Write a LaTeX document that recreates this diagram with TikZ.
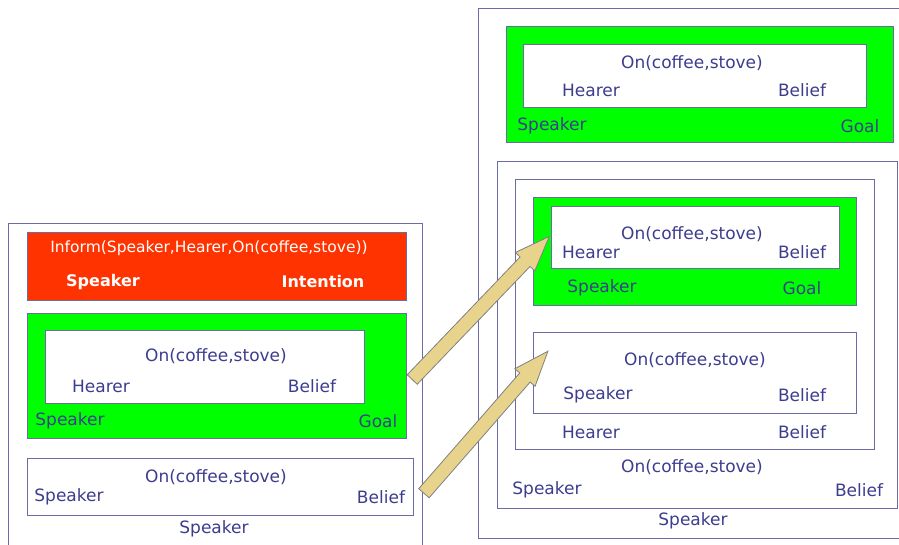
\documentclass[tikz,border=0pt]{standalone}
\usepackage{fontspec}
\setmainfont{DejaVu Sans}
\usetikzlibrary{fit,calc,shapes.arrows}
\definecolor{navy}{RGB}{61,61,143}
\definecolor{frame}{RGB}{107,107,168}
\definecolor{goalgreen}{RGB}{0,255,0}
\definecolor{intentred}{RGB}{255,51,0}
\definecolor{wheat}{RGB}{232,211,140}

\begin{document}
\begin{tikzpicture}[
            x=1pt, y=-1pt,
            box/.style = {
                draw=frame,
                line width=1pt,
                inner sep=0pt,
                fill=white
            },
            goalbox/.style = {box, fill=goalgreen},
            intentbox/.style = {box, fill=intentred},
            lbl/.style = {
                text=navy,
                inner sep=0pt,
                font=\fontsize{17}{20}\selectfont
            },
            boldlbl/.style = {
                text=white,
                inner sep=0pt,
                font=\fontsize{16}{19}\selectfont\bfseries
            },
            fat/.style = {
                single arrow,
                draw=gray,
                fill=wheat,
                line width=0.8pt,
                inner sep=0pt,
                inner ysep=6.5pt,
                single arrow head extend=6.5pt,
                single arrow tip angle=42
            }
        ]
            \useasboundingbox (0,0) rectangle (899,545);

            % left side: what the speaker holds
            \node[box, fit={(8,224) (422,560)}] (leftframe) {};
            \node[intentbox, fit={(27,233) (406,300)}] (intention) {};
            \node[goalbox, fit={(27,313) (406,438)}] (goal1) {};
            \node[box, fit={(45,330) (364,403)}] (belief1) {};
            \node[box, fit={(27,458) (413,515)}] (belief2) {};

            % right side: after the inform act
            \node[box, fit={(478,9) (905,538)}] (rightframe) {};
            \node[goalbox, fit={(506,27) (893,143)}] (goal3) {};
            \node[box, fit={(523,45) (866,108)}] (belief3) {};
            \node[box, fit={(497,162) (897,508)}] (belief4) {};
            \node[box, fit={(515,180) (874,449)}] (belief5) {};
            \node[goalbox, fit={(533,198) (856,305)}] (goal6) {};
            \node[box, fit={(551,207) (839,269)}] (belief6) {};
            \node[box, fit={(533,332) (856,413)}] (belief7) {};

            \node[text=white, inner sep=0pt, font=\fontsize{15.5}{18}\selectfont]
                (inform) at (209,248) {Inform(Speaker,Hearer,On(coffee,stove))};
            \node[boldlbl] (ispeaker) at (103,282) {Speaker};
            \node[boldlbl] (iintention) at (323,282) {Intention};

            \foreach \x/\y [count=\i] in {216/356, 216/477, 692/63, 692/234, 695/360, 692/467} {
                \node[lbl] (on\i) at (\x,\y) {On(coffee,stove)};
            }

            \node[lbl] (hearer1) at (101,386) {Hearer};
            \node[lbl] (bel1) at (312,386) {Belief};
            \node[lbl] (speaker1) at (70,421) {Speaker};
            \node[lbl] (goallbl1) at (378,421) {Goal};
            \node[lbl] (speaker2) at (69,497) {Speaker};
            \node[lbl] (bel2) at (381,497) {Belief};
            \node[lbl] (speakerL) at (214,529) {Speaker};

            \node[lbl] (hearer3) at (591,90) {Hearer};
            \node[lbl] (bel3) at (802,90) {Belief};
            \node[lbl] (speaker3) at (552,126) {Speaker};
            \node[lbl] (goallbl3) at (860,126) {Goal};

            \node[lbl] (hearer6) at (591,252) {Hearer};
            \node[lbl] (bel6) at (802,252) {Belief};
            \node[lbl] (speaker6) at (602,288) {Speaker};
            \node[lbl] (goallbl6) at (802,288) {Goal};
            \node[lbl] (speaker7) at (598,395) {Speaker};
            \node[lbl] (bel7) at (802,395) {Belief};
            \node[lbl] (hearer5) at (591,432) {Hearer};
            \node[lbl] (bel5) at (802,432) {Belief};
            \node[lbl] (speaker4) at (547,490) {Speaker};
            \node[lbl] (bel4) at (859,490) {Belief};
            \node[lbl] (speakerR) at (693,521) {Speaker};

            % the two transfer arrows
            \coordinate (s1) at (406,386);
            \coordinate (t1) at (543,243);
            \coordinate (s2) at (418,500);
            \coordinate (t2) at (542,358);
            \foreach \i in {1,2} {
                \path let \p1 = ($(t\i)-(s\i)$), \n1 = {atan2(\y1,\x1)}, \n2 = {veclen(\x1,\y1)} in
                    node[fat, minimum height=\n2, rotate=\n1] (arrow\i) at ($(s\i)!0.5!(t\i)$) {};
            }

        \end{tikzpicture}
\end{document}
